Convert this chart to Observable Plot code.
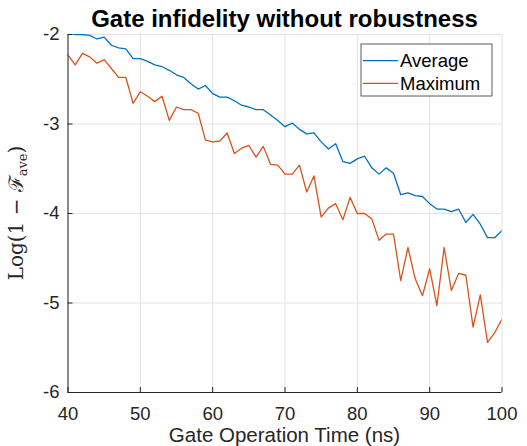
<!DOCTYPE html>
<html><head><meta charset="utf-8">
<script src="https://cdn.jsdelivr.net/npm/d3@7"></script>
<script src="https://cdn.jsdelivr.net/npm/@observablehq/plot@0.6"></script>
<style>html,body{margin:0;padding:0;background:#fff} svg{display:block}</style>
</head><body><div id="chart"></div>
<script>
const times = [40,41,42,43,44,45,46,47,48,49,50,51,52,53,54,55,56,57,58,59,60,61,62,63,64,65,66,67,68,69,70,71,72,73,74,75,76,77,78,79,80,81,82,83,84,85,86,87,88,89,90,91,92,93,94,95,96,97,98,99,100];
const average = [-1.98,-2.00,-2.00,-2.01,-2.05,-2.03,-2.12,-2.15,-2.16,-2.27,-2.27,-2.30,-2.34,-2.36,-2.40,-2.45,-2.48,-2.55,-2.61,-2.57,-2.66,-2.70,-2.70,-2.74,-2.79,-2.81,-2.84,-2.84,-2.90,-2.96,-3.03,-2.99,-3.06,-3.11,-3.10,-3.20,-3.28,-3.22,-3.42,-3.44,-3.39,-3.36,-3.49,-3.56,-3.49,-3.55,-3.79,-3.77,-3.80,-3.81,-3.89,-3.95,-3.95,-3.98,-3.95,-4.10,-4.01,-4.12,-4.27,-4.27,-4.19];
const maximum = [-2.23,-2.34,-2.21,-2.25,-2.32,-2.28,-2.38,-2.48,-2.48,-2.77,-2.64,-2.69,-2.75,-2.69,-2.96,-2.81,-2.84,-2.84,-2.88,-3.18,-3.20,-3.19,-3.10,-3.33,-3.27,-3.24,-3.37,-3.25,-3.45,-3.46,-3.56,-3.56,-3.46,-3.76,-3.58,-4.04,-3.94,-3.89,-4.07,-3.82,-4.00,-4.00,-4.06,-4.30,-4.23,-4.23,-4.75,-4.38,-4.73,-4.92,-4.62,-5.03,-4.38,-4.86,-4.67,-4.69,-5.27,-4.91,-5.44,-5.33,-5.18];
const seriesNames = ["Average", "Maximum"];
const seriesColors = ["#0072BD", "#D95319"];
const xTicks = [40,50,60,70,80,90,100];
const yTicks = [-6,-5,-4,-3,-2];
const titleText = "Gate infidelity without robustness";
const xLabelText = "Gate Operation Time (ns)";

const rows = [];
times.forEach((t, i) => {
  rows.push({t, v: average[i], s: seriesNames[0]});
  rows.push({t, v: maximum[i], s: seriesNames[1]});
});

const W = 527, H = 446, mL = 67.5, mR = 25.5, mT = 34, mB = 54;
const plotW = W - mL - mR, plotH = H - mT - mB;
const axisColor = "#262626";
const gridColor = "#e2e2e2";

const chart = Plot.plot({
  width: W, height: H,
  marginLeft: mL, marginRight: mR, marginTop: mT, marginBottom: mB,
  style: {fontFamily: "'Liberation Sans', Arial, sans-serif", color: axisColor, background: "#fff", overflow: "visible"},
  x: {domain: [40, 100]},
  y: {domain: [-6, -2]},
  color: {domain: seriesNames, range: seriesColors},
  marks: [
    Plot.gridX(xTicks, {stroke: gridColor, strokeOpacity: 1}),
    Plot.gridY(yTicks, {stroke: gridColor, strokeOpacity: 1}),
    Plot.line(rows, {x: "t", y: "v", z: "s", stroke: "s", strokeWidth: 1.3, clip: true}),
    Plot.axisX(xTicks, {tickSize: 0, tickPadding: 14, fontSize: 18.5, label: null, tickFormat: d => String(d)}),
    Plot.axisY(yTicks, {tickSize: 0, tickPadding: 8.5, fontSize: 18.5, label: null, tickFormat: d => String(d)}),
    Plot.tickX(xTicks, {x: d => d, insetTop: plotH - 5, stroke: axisColor}),
    Plot.tickY(yTicks, {y: d => d, insetRight: plotW - 5, stroke: axisColor}),
    Plot.ruleX([40], {stroke: axisColor}),
    Plot.ruleY([-6], {stroke: axisColor})
  ]
});
document.getElementById("chart").appendChild(chart);

const svg = d3.select(chart);
const sans = "'Liberation Sans', Arial, sans-serif";
// title
svg.append("text")
  .attr("x", mL + plotW / 2).attr("y", 26.5)
  .attr("text-anchor", "middle")
  .attr("font-family", sans)
  .attr("font-weight", "bold").attr("font-size", 24).attr("fill", "#000")
  .text(titleText);
// x label
svg.append("text")
  .attr("x", mL + plotW / 2).attr("y", 441.5)
  .attr("text-anchor", "middle")
  .attr("font-family", sans)
  .attr("font-size", 20.5).attr("fill", axisColor)
  .text(xLabelText);
// y label
const yl = svg.append("text")
  .attr("transform", `translate(23,${mT + plotH / 2}) rotate(-90)`)
  .attr("text-anchor", "middle")
  .attr("font-family", "'DejaVu Serif','Liberation Serif',serif")
  .attr("font-size", 20).attr("fill", axisColor);
yl.append("tspan").text("Log(1 − ");
yl.append("tspan").text("ℱ");
yl.append("tspan").attr("font-size", 13).attr("dy", 4).text("ave");
yl.append("tspan").attr("dy", -4).text(")");
// legend
const lg = svg.append("g");
lg.append("rect").attr("x", 361).attr("y", 44).attr("width", 131).attr("height", 52)
  .attr("fill", "#fff").attr("stroke", "#333").attr("stroke-width", 0.8);
seriesNames.forEach((name, i) => {
  const y = 60.7 + i * 22.6;
  lg.append("line").attr("x1", 363).attr("x2", 398).attr("y1", y).attr("y2", y)
    .attr("stroke", seriesColors[i]).attr("stroke-width", 1.3);
  lg.append("text").attr("x", 400).attr("y", y).attr("dy", "0.35em")
    .attr("text-anchor", "start")
    .attr("font-family", sans)
    .attr("font-size", 18.5).attr("fill", "#000").text(name);
});
</script>
</body></html>
